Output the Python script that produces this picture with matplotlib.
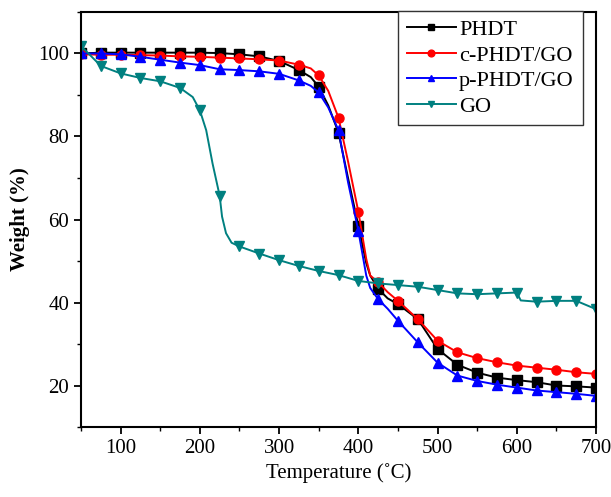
import numpy as np
import matplotlib
matplotlib.use("Agg")
import matplotlib.pyplot as plt
from matplotlib.ticker import MultipleLocator

plt.rcParams['font.family'] = ['Liberation Serif', 'DejaVu Serif']

# Temperatures (°C): markers every 25 °C, a few extra readings on the steep parts
temp_poly = [50, 75, 100, 125, 150, 175, 200, 225, 250, 275, 300, 325, 340, 350,
             362, 375, 387, 400, 410, 415, 425, 437, 450, 475, 500, 525, 550,
             575, 600, 625, 650, 675, 700]
phdt = [100.0, 100.2, 100.2, 100.2, 100.2, 100.2, 100.2, 100.1, 99.8, 99.3, 98.2,
        96.0, 94.3, 92.0, 87.5, 80.9, 70.0, 58.5, 49.5, 46.5, 43.3, 41.0, 39.6,
        36.0, 28.8, 25.0, 23.1, 21.9, 21.3, 20.8, 20.0, 19.8, 19.5]
c_phdt_go = [99.8, 99.7, 99.7, 99.6, 99.5, 99.3, 99.2, 99.0, 98.8, 98.6, 98.3,
             97.3, 96.4, 94.7, 91.0, 84.5, 74.0, 61.9, 50.5, 46.5, 44.9, 42.5,
             40.4, 36.0, 30.8, 28.0, 26.6, 25.6, 24.8, 24.3, 23.8, 23.2, 22.8]
p_phdt_go = [100.0, 100.0, 99.8, 99.2, 98.5, 97.8, 97.2, 96.2, 96.0, 95.7, 95.1,
             93.5, 92.2, 90.6, 87.0, 81.5, 69.0, 57.3, 46.5, 43.5, 40.8, 38.5,
             35.6, 30.4, 25.5, 22.4, 21.1, 20.2, 19.5, 18.8, 18.4, 18.0, 17.5]

temp_go = [50, 75, 100, 125, 150, 175, 191, 200, 208, 216, 225, 228, 233, 240,
           250, 275, 300, 325, 350, 375, 400, 425, 450, 475, 500, 525, 550, 575,
           600, 605, 625, 650, 675, 700]
go = [101.8, 97.0, 95.2, 94.1, 93.3, 91.7, 89.5, 86.3, 81.5, 73.5, 65.7, 60.7,
      56.7, 54.4, 53.5, 51.8, 50.2, 48.8, 47.6, 46.6, 45.2, 44.6, 44.2, 43.8,
      43.0, 42.2, 42.0, 42.2, 42.4, 40.5, 40.2, 40.4, 40.4, 38.4]

series = [
    (temp_poly, phdt, 'PHDT', 'black', 's'),
    (temp_poly, c_phdt_go, 'c-PHDT/GO', '#ff0000', 'o'),
    (temp_poly, p_phdt_go, 'p-PHDT/GO', '#0000ff', '^'),
    (temp_go, go, 'GO', '#008080', 'v'),
]

fig = plt.figure(figsize=(6.11, 4.97), dpi=100)
ax = fig.add_axes([0.1326, 0.1408, 0.8429, 0.8351])

for t, w, label, color, marker in series:
    t = np.array(t)
    ax.plot(t, w, color=color, lw=1.4, marker=marker, ms=6.5,
            markevery=list(np.where(t % 25 == 0)[0]), label=label)

ax.set_xlim(50, 700)
ax.set_ylim(10, 110)
ax.xaxis.set_major_locator(MultipleLocator(100))
ax.xaxis.set_minor_locator(MultipleLocator(50))
ax.yaxis.set_major_locator(MultipleLocator(20))
ax.yaxis.set_minor_locator(MultipleLocator(10))
ax.tick_params(which='major', direction='out', length=5, width=1.3, labelsize=15)
ax.tick_params(which='minor', direction='out', length=3, width=1.0)
for s in ax.spines.values():
    s.set_linewidth(1.5)

ax.set_xlabel('Temperature (˚C)', fontsize=15)
ax.set_ylabel('Weight (%)', fontsize=15, fontweight='bold', labelpad=6)

leg = ax.legend(loc='upper right', bbox_to_anchor=(0.974, 1.003), fontsize=16,
                handlelength=2.2, handletextpad=0.15, labelspacing=0.22,
                borderpad=0.4, borderaxespad=0, fancybox=False, framealpha=1,
                markerscale=0.75)
leg.get_frame().set_edgecolor('#333333')
leg.get_frame().set_linewidth(1.0)

fig.savefig('out.png', dpi=100)
